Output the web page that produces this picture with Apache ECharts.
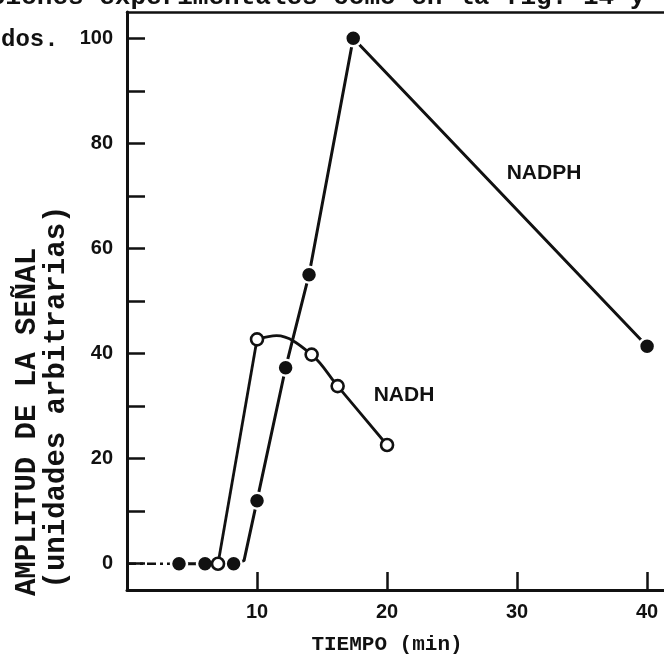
<!DOCTYPE html>
<html>
<head>
<meta charset="utf-8">
<script src="https://cdn.jsdelivr.net/npm/echarts@6/dist/echarts.min.js"></script>
<style>
  html, body { margin: 0; padding: 0; background: #fff; }
  #chart { width: 664px; height: 663px; }
</style>
</head>
<body>
<div id="chart"></div>
<script>
// Measured readings: time (min) vs. signal amplitude (arbitrary units)
const nadphTime = [4, 6, 8.2, 10, 12.2, 14, 17.4, 40];
const nadphAmp  = [0, 0, 0, 12, 37.3, 55, 100, 41.4];
const nadhTime  = [7, 10, 14.2, 16.2, 20];
const nadhAmp   = [0, 42.7, 39.8, 33.8, 22.6];

// Hand-drawn curve paths through the readings
const nadphPathTime = [4, 6, 8.2, 9.0, 10, 12.2, 14, 17.4, 40];
const nadphPathAmp  = [0, 0, 0, 0.6, 12, 37.3, 55, 100, 41.4];
const nadhRiseTime  = [7, 10];
const nadhRiseAmp   = [0, 42.7];
const nadhFallTime  = [10, 11.5, 14.2, 16.2, 20];
const nadhFallAmp   = [42.7, 43.4, 39.8, 33.8, 22.6];

// Baseline drawn from t = 0 up to the first reading
const baseTime = [0, 4];
const baseAmp  = [0, 0];

// Axis ticks and labels
const xTickValues  = [10, 20, 30, 40];
const xLabelValues = [10, 20, 30, 40];
const yTickValues  = [0, 10, 20, 30, 40, 50, 60, 70, 80, 90, 100];
const yLabelValues = [0, 20, 40, 60, 80, 100];

const zip = (xs, ys) => xs.map((x, i) => [x, ys[i]]);

const INK = '#111';
const labelFont = { color: INK, fontFamily: 'Liberation Sans, Arial, sans-serif', fontWeight: 'bold', fontSize: 20 };
const typeFont = 'Liberation Mono, DejaVu Sans Mono, monospace';

const chart = echarts.init(document.getElementById('chart'), null, { renderer: 'canvas' });

chart.setOption({
  animation: false,
  backgroundColor: '#fff',
  grid: { left: 127, right: 0, top: 12, bottom: 73 },
  xAxis: [
    {
      type: 'value', min: 0, max: 41.3, position: 'bottom',
      axisLine: { onZero: false, lineStyle: { color: INK, width: 3 } },
      axisTick: { inside: true, length: 18, customValues: xTickValues, lineStyle: { color: INK, width: 2.5 } },
      axisLabel: Object.assign({ customValues: xLabelValues, margin: 12 }, labelFont),
      splitLine: { show: false }
    },
    {
      type: 'value', min: 0, max: 41.3, position: 'top',
      axisLine: { onZero: false, lineStyle: { color: INK, width: 2.5 } },
      axisTick: { show: false }, axisLabel: { show: false }, splitLine: { show: false }
    }
  ],
  yAxis: {
    type: 'value', min: -5, max: 105,
    axisLine: { show: true, onZero: false, lineStyle: { color: INK, width: 3 } },
    axisTick: { show: true, inside: true, length: 18, customValues: yTickValues, lineStyle: { color: INK, width: 2.5 } },
    axisLabel: Object.assign({ customValues: yLabelValues, margin: 14 }, labelFont),
    splitLine: { show: false }
  },
  series: [
    {
      type: 'line', data: zip(baseTime, baseAmp), symbol: 'none',
      lineStyle: { color: INK, width: 2.5, type: [9, 4, 3, 4] }, z: 2
    },
    {
      name: 'NADH', type: 'line', data: zip(nadhRiseTime, nadhRiseAmp), symbol: 'none',
      lineStyle: { color: INK, width: 2.8 }, z: 2
    },
    {
      name: 'NADH', type: 'line', data: zip(nadhFallTime, nadhFallAmp), symbol: 'none', smooth: 0.35,
      lineStyle: { color: INK, width: 2.8 }, z: 2
    },
    {
      name: 'NADPH', type: 'line', data: zip(nadphPathTime, nadphPathAmp), symbol: 'none',
      lineStyle: { color: INK, width: 3 }, z: 3
    },
    {
      name: 'NADPH', type: 'scatter', data: zip(nadphTime, nadphAmp), symbol: 'circle', symbolSize: 16,
      itemStyle: { color: INK, borderColor: '#fff', borderWidth: 2.5, opacity: 1 }, z: 5
    },
    {
      name: 'NADH', type: 'scatter', data: zip(nadhTime, nadhAmp), symbol: 'circle', symbolSize: 12,
      itemStyle: { color: '#fff', borderColor: INK, borderWidth: 2.6, opacity: 1 }, z: 6
    }
  ],
  graphic: [
    { type: 'text', x: 544, y: 173, style: { text: 'NADPH', fill: INK, font: 'bold 21px Liberation Sans, Arial, sans-serif', align: 'center', verticalAlign: 'middle' } },
    { type: 'text', x: 404, y: 395, style: { text: 'NADH', fill: INK, font: 'bold 21px Liberation Sans, Arial, sans-serif', align: 'center', verticalAlign: 'middle' } },
    { type: 'text', x: 387, y: 645, style: { text: 'TIEMPO (min)', fill: INK, font: 'bold 21px ' + typeFont, align: 'center', verticalAlign: 'middle' } },
    { type: 'text', x: 28, y: 422, rotation: Math.PI / 2, style: { text: 'AMPLITUD DE LA SEÑAL', fill: INK, font: 'bold 29px ' + typeFont, align: 'center', verticalAlign: 'middle' } },
    { type: 'text', x: 57, y: 397, rotation: Math.PI / 2, style: { text: '(unidades arbitrarias)', fill: INK, font: 'bold 29px ' + typeFont, align: 'center', verticalAlign: 'middle' } },
    { type: 'text', x: -10, y: 10, style: { text: 'ciones experimentales como en la fig. 14 y', fill: INK, font: 'bold 26px ' + typeFont, align: 'left', verticalAlign: 'bottom' } },
    { type: 'text', x: 1, y: 40, style: { text: 'dos.', fill: INK, font: 'bold 24px ' + typeFont, align: 'left', verticalAlign: 'middle' } }
  ]
});
</script>
</body>
</html>
